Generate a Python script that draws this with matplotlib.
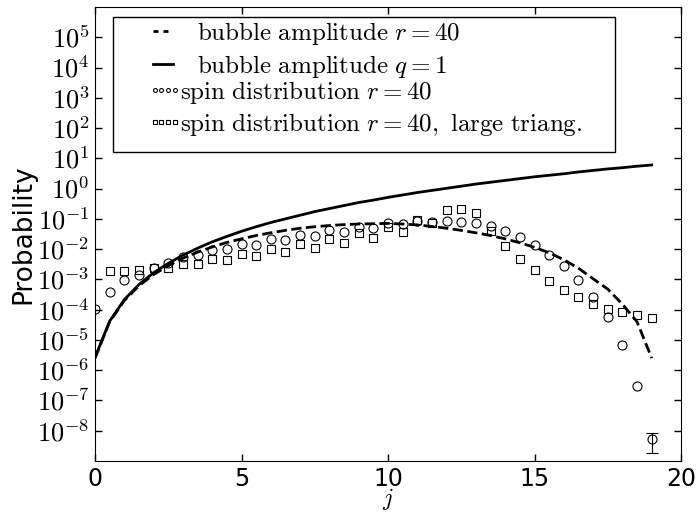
import numpy as np
import matplotlib
matplotlib.use("Agg")
import matplotlib.pyplot as plt
from matplotlib.ticker import FixedLocator, FuncFormatter, NullLocator
from matplotlib.lines import Line2D
from matplotlib.patches import Rectangle
from matplotlib.legend_handler import HandlerLine2D

# spin j values (half-integers)
j = np.arange(0, 19.5, 0.5)

# log10 of probability
bubble_r40 = [-5.60, -4.40, -3.70, -3.21, -2.84, -2.55, -2.30, -2.10, -1.93, -1.78,
              -1.66, -1.55, -1.46, -1.38, -1.31, -1.26, -1.22, -1.19, -1.17, -1.16,
              -1.15, -1.17, -1.20, -1.25, -1.31, -1.38, -1.46, -1.55, -1.66, -1.79,
              -1.94, -2.12, -2.35, -2.63, -2.98, -3.32, -3.82, -4.40, -5.60]
bubble_q1 = [-5.58, -4.38, -3.67, -3.17, -2.78, -2.47, -2.20, -1.97, -1.76, -1.58,
             -1.41, -1.26, -1.12, -1.00, -0.88, -0.76, -0.66, -0.56, -0.46, -0.38,
             -0.29, -0.21, -0.13, -0.06, 0.01, 0.08, 0.15, 0.21, 0.27, 0.33,
             0.39, 0.44, 0.49, 0.55, 0.60, 0.65, 0.69, 0.74, 0.78]
spin_r40 = [-3.97, -3.40, -3.03, -2.86, -2.62, -2.47, -2.26, -2.21, -2.02, -2.01,
            -1.83, -1.87, -1.67, -1.70, -1.52, -1.57, -1.38, -1.42, -1.27, -1.31,
            -1.15, -1.18, -1.06, -1.12, -1.08, -1.10, -1.15, -1.23, -1.39, -1.61,
            -1.87, -2.19, -2.56, -3.02, -3.57, -4.25, -5.18, -6.51, -8.26]
# error bar of the last spin point (log10 low / high)
spin_last_err = (-8.75, -8.06)
# large triangulation starts at j = 0.5
spin_r40_large = [-2.72, -2.72, -2.70, -2.61, -2.61, -2.50, -2.50, -2.34, -2.36,
                  -2.17, -2.23, -2.00, -2.11, -1.83, -1.97, -1.66, -1.81, -1.48,
                  -1.64, -1.27, -1.45, -1.05, -1.13, -0.71, -0.69, -0.80, -1.40,
                  -1.91, -2.32, -2.69, -3.04, -3.34, -3.58, -3.82, -3.98, -4.08,
                  -4.16, -4.26]

labels = [r'$\mathrm{bubble\ amplitude}\ r=40$',
          r'$\mathrm{bubble\ amplitude}\ q=1$',
          r'$\mathrm{spin\ distribution}\ r=40$',
          r'$\mathrm{spin\ distribution}\ r=40\mathrm{,\ large\ triang.}$']

plt.rcParams['mathtext.fontset'] = 'cm'

fig = plt.figure(figsize=(6.99, 5.14), dpi=100)
ax = fig.add_axes([95/699, 53/514, 586/699, 454/514])

ax.plot(j, 10**np.array(bubble_r40), 'k--', lw=2)
ax.plot(j, 10**np.array(bubble_q1), 'k-', lw=2)
mk = dict(ls='none', mfc='none', mec='k', mew=0.8)
ax.plot(j, 10**np.array(spin_r40), marker='o', ms=6.5, **mk)
ax.plot(j[1:], 10**np.array(spin_r40_large), marker='s', ms=6, **mk)
y_last = 10**spin_r40[-1]
ax.errorbar([j[-1]], [y_last],
            yerr=[[y_last - 10**spin_last_err[0]], [10**spin_last_err[1] - y_last]],
            fmt='none', ecolor='k', elinewidth=0.8, capsize=4, capthick=0.8)

ax.set_yscale('log')
ax.set_xlim(0, 20)
ax.set_ylim(1e-9, 1e6)
ax.yaxis.set_major_locator(FixedLocator(10.0**np.arange(-8, 6)))
ax.yaxis.set_minor_locator(NullLocator())
ax.yaxis.set_major_formatter(FuncFormatter(lambda v, p: r'$10^{%d}$' % round(np.log10(v))))
ax.set_xticks([0, 5, 10, 15, 20])
ax.tick_params(direction='in', top=True, right=True, length=5, width=1)
ax.tick_params(axis='y', labelsize=19, pad=4)
ax.tick_params(axis='x', labelsize=17, pad=4)

ax.set_ylabel('Probability', fontsize=19, labelpad=0)
ax.set_xlabel(r'$j$', fontsize=17, va='bottom')
ax.xaxis.set_label_coords(0.5, -51.5 / 454)

# legend box drawn as a patch, two legends inside for the different text offsets
ax.add_patch(Rectangle((0.0307, 0.6806), 0.8567, 0.2974, transform=ax.transAxes,
                       fc='white', ec='k', lw=1, zorder=4))
h_lines = [Line2D([], [], color='k', lw=2, dashes=(1.8, 1.8)),
           Line2D([], [], color='k', lw=2)]
h_marks = [Line2D([], [], marker='o', **mk, ms=2.8),
           Line2D([], [], marker='s', **mk, ms=2.8)]
leg1 = ax.legend(h_lines, labels[:2], loc='upper left', bbox_to_anchor=(0.099, 0.971),
                 frameon=False, fontsize=18, handlelength=0.8, handletextpad=0.95,
                 borderpad=0, borderaxespad=0, labelspacing=0.22)
leg1.set_zorder(5)
ax.add_artist(leg1)
leg2 = ax.legend(h_marks, labels[2:], loc='upper left', bbox_to_anchor=(0.102, 0.842),
                 frameon=False, fontsize=18, handlelength=0.8, handletextpad=0.2,
                 numpoints=4, borderpad=0, borderaxespad=0, labelspacing=0.22,
                 handler_map={h: HandlerLine2D(marker_pad=0, numpoints=4) for h in h_marks})
leg2.set_zorder(5)

fig.savefig('out.png', dpi=100)
